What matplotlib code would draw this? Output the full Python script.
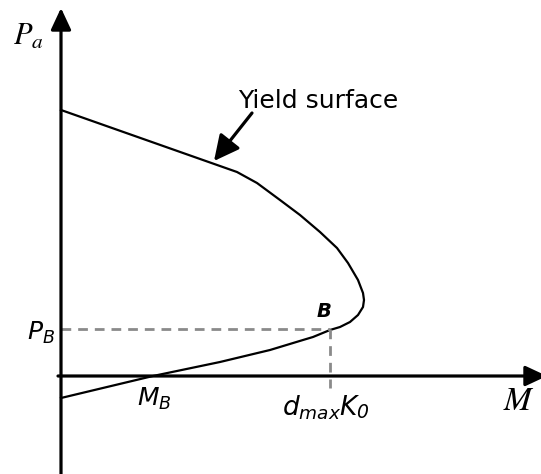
import matplotlib
matplotlib.use("Agg")
import matplotlib.pyplot as plt

# yield surface (M along x, P_a along y, origin at axes cross)
surf_m = [0, 176, 196, 219, 239, 259, 276, 287, 297, 302, 303, 302, 297, 289, 279,
          269, 252, 242, 209, 159, 92, 0]
surf_p = [266, 204, 193, 176, 161, 144, 128, 113, 96, 83, 76, 69, 61, 54, 49,
          46, 39, 36, 26, 14, 0, -22]

# point B
b_m = 269
b_p = 47

fig = plt.figure(figsize=(5.41, 4.74), dpi=100)
ax = fig.add_axes([0, 0, 1, 1])
ax.set_xlim(-61, 480)
ax.set_ylim(-98, 376)
ax.axis('off')

# axes with arrow heads
ax_arrow = dict(arrowstyle='-|>,head_length=0.6,head_width=0.28', color='black',
                lw=2.3, mutation_scale=22, shrinkA=0, shrinkB=0)
ax.annotate('', xy=(0, 368), xytext=(0, -98), arrowprops=ax_arrow, annotation_clip=False)
ax.annotate('', xy=(486, 0), xytext=(-3, 0), arrowprops=ax_arrow, annotation_clip=False)

# the surface
ax.plot(surf_m, surf_p, color='black', lw=1.6, solid_joinstyle='round')

# dashed guides to B
guide = dict(color='#8a8a8a', lw=2, dashes=(3.5, 2.5))
ax.plot([0, b_m], [b_p, b_p], **guide)
ax.plot([b_m, b_m], [b_p, -12], **guide)

# pointer to the surface
ax.annotate('', xy=(153, 215), xytext=(191, 263),
            arrowprops=dict(arrowstyle='-|>,head_length=0.7,head_width=0.35', color='black',
                            lw=2.3, mutation_scale=22, shrinkA=0, shrinkB=0))

ax.text(177, 268, 'Yield surface', fontsize=18, family='DejaVu Sans', va='baseline')

# labels
ax.text(-48, 331, r'$P_a$', fontsize=22, math_fontfamily='stix', va='baseline')
ax.text(442, -34, r'$M$', fontsize=24, math_fontfamily='stix', va='baseline')
ax.text(-6, 36, r'$P_B$', fontsize=18, ha='right', va='baseline')
ax.text(76, -30, r'$M_B$', fontsize=18, va='baseline')
dk = ax.text(221, -39, r'$d_{max}K$', fontsize=19, va='baseline')
# mathtext keeps digits upright, the sketch has an oblique 0
ax.annotate('0', xy=(1, 0), xycoords=dk, xytext=(-3.5, 2.5), textcoords='offset points',
            fontsize=13.5, family='DejaVu Sans', fontstyle='italic', va='baseline')
ax.text(256, 59, 'B', fontsize=14, family='DejaVu Sans', fontweight='bold',
        fontstyle='italic', va='baseline')

fig.savefig('out.png', dpi=100)
